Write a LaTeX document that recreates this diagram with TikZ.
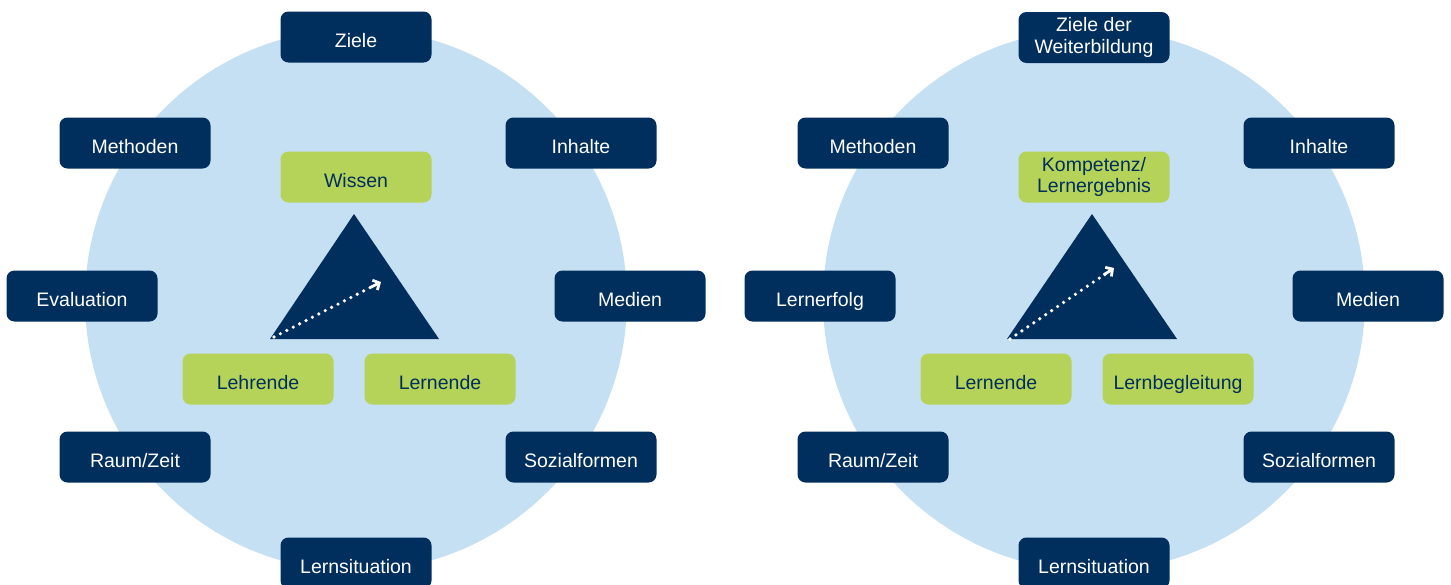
\documentclass[tikz,border=0pt]{standalone}
\usepackage{fontspec}
\setmainfont{Liberation Sans}
\usetikzlibrary{arrows.meta,calc}
\definecolor{navy}{RGB}{0,46,93}
\definecolor{leaf}{RGB}{181,211,88}
\definecolor{sky}{RGB}{197,224,242}
\begin{document}
\begin{tikzpicture}[x=1pt,y=-1pt,
  box/.style={rounded corners=8pt, minimum width=151pt, minimum height=51pt,
    inner sep=0pt, align=center, font=\fontsize{19.5}{21.8}\selectfont},
  oneline/.style={text height=20pt, text depth=0pt},
  outerbox/.style={box, fill=navy, text=white},
  innerbox/.style={box, fill=leaf, text=navy},
  disc/.style={fill=sky},
  tri/.style={fill=navy},
  dots/.style={white, line width=3.6pt, line cap=round, dash pattern=on 0pt off 7.2pt},
  tip/.style={white, line width=2.8pt, -{Straight Barb[length=5pt, width=11pt]}}
]
\useasboundingbox (0,0) rectangle (1451,584);

% ---- left model ----
\fill[disc] (356,300) circle (271pt);
\node[outerbox, oneline] (lZiele) at (356,37) {Ziele};
\node[outerbox, oneline] (lMeth) at (135,143) {Methoden};
\node[outerbox, oneline] (lInh) at (581,143) {Inhalte};
\node[outerbox, oneline] (lEval) at (82,296) {Evaluation};
\node[outerbox, oneline] (lMed) at (630,296) {Medien};
\node[outerbox, oneline] (lRaum) at (135,457) {Raum/Zeit};
\node[outerbox, oneline] (lSoz) at (581,457) {Sozialformen};
\node[outerbox, oneline] (lSit) at (356,563) {Lernsituation};
\node[innerbox, oneline] (lWis) at (356,177) {Wissen};
\node[innerbox, oneline] (lLehr) at (258,379) {Lehrende};
\node[innerbox, oneline] (lLern) at (440,379) {Lernende};
\coordinate (lA) at (354,214);
\coordinate (lB) at (270,339);
\coordinate (lC) at (439,339);
\fill[tri] (lA) -- (lB) -- (lC) -- cycle;
\coordinate (lS) at (274,337);
\coordinate (lT) at (381,282);
\coordinate (lU) at ($(lS)!0.93!(lT)$);
\draw[dots] (lS) -- (lU);
\draw[tip] ($(lS)!0.9!(lT)$) -- (lT);

% ---- right model ----
\fill[disc] (1094,300) circle (271pt);
\node[outerbox] (rZiele) at (1094,37.5) {Ziele der\\Weiterbildung};
\node[outerbox, oneline] (rMeth) at (873,143) {Methoden};
\node[outerbox, oneline] (rInh) at (1319,143) {Inhalte};
\node[outerbox, oneline] (rErf) at (820,296) {Lernerfolg};
\node[outerbox, oneline] (rMed) at (1368,296) {Medien};
\node[outerbox, oneline] (rRaum) at (873,457) {Raum/Zeit};
\node[outerbox, oneline] (rSoz) at (1319,457) {Sozialformen};
\node[outerbox, oneline] (rSit) at (1094,563) {Lernsituation};
\node[innerbox] (rKom) at (1094,177) {Kompetenz/\\Lernergebnis};
\node[innerbox, oneline] (rLern) at (996,379) {Lernende};
\node[innerbox, oneline] (rBeg) at (1178,379) {Lernbegleitung};
\coordinate (rA) at (1092,214);
\coordinate (rB) at (1007,339);
\coordinate (rC) at (1177,339);
\fill[tri] (rA) -- (rB) -- (rC) -- cycle;
\coordinate (rS) at (1010,339);
\coordinate (rT) at (1114,268);
\coordinate (rU) at ($(rS)!0.93!(rT)$);
\draw[dots] (rS) -- (rU);
\draw[tip] ($(rS)!0.9!(rT)$) -- (rT);
\end{tikzpicture}
\end{document}
